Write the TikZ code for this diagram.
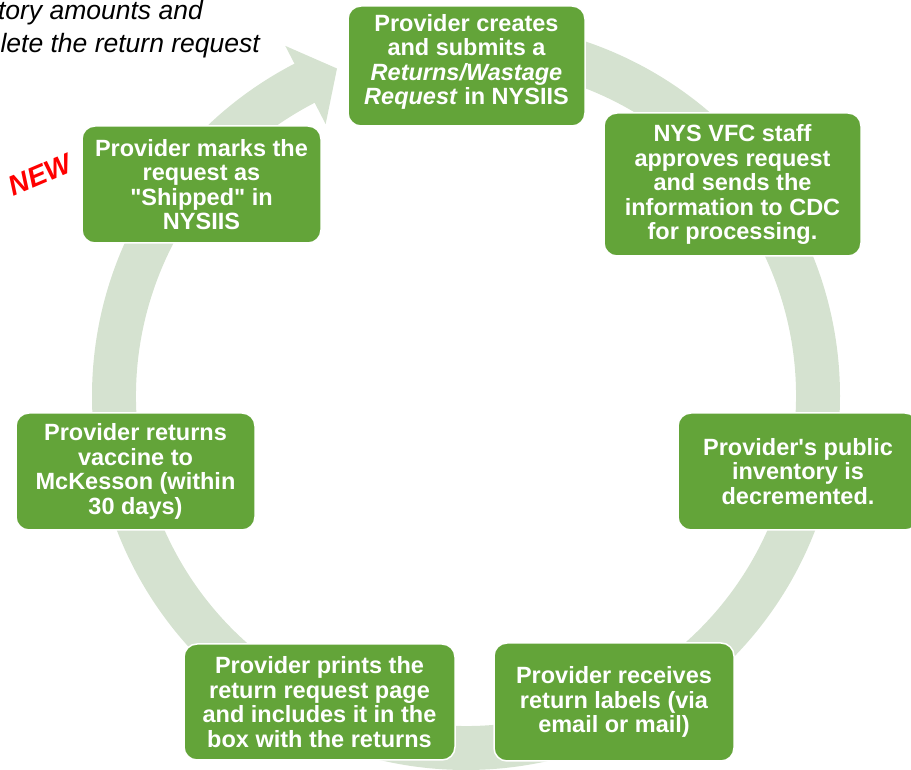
\documentclass[tikz,border=0pt]{standalone}
\usepackage{fontspec}
\setmainfont{Liberation Sans}
\definecolor{boxg}{RGB}{99,164,57}
\definecolor{ringg}{RGB}{213,226,208}
\begin{document}
\begin{tikzpicture}[x=1pt,y=1pt,
  stepbox/.style={draw=white, line width=1.5pt, fill=boxg, rounded corners=13pt,
    text=white, align=center, inner sep=0pt,
    font=\bfseries\fontsize{23.5}{24.5}\selectfont},
  notetext/.style={anchor=base east, inner sep=0pt, font=\itshape\fontsize{26.5}{32}\selectfont}]
\useasboundingbox (0,0) rectangle (911,770);
% cycle ring with arrow head
\begin{scope}[shift={(466,374)}]
  \fill[ringg] (90:374) arc[start angle=90, end angle=-242.7, radius=374]
    -- (-242.7:394) -- (-248.5:352) -- (-242.7:306) -- (-242.7:330)
    arc[start angle=-242.7, end angle=90, radius=330] -- cycle;
\end{scope}
% notes
\node[notetext] (t1) at (203,750) {tory amounts and};
\node[notetext] (t2) at (260,717) {lete the return request};
\node[text=red, inner sep=0pt, rotate=23, font=\bfseries\itshape\fontsize{28}{32}\selectfont] (new) at (40,595) {NEW};
% steps
\node[stepbox, minimum width=237pt, minimum height=120pt] (s1) at (466.5,704) {};
\node[text=white, align=center, inner sep=0pt, font=\bfseries\fontsize{23.5}{24.5}\selectfont] (s1t) at (466.5,708) {Provider creates\\and submits a\\\textit{Returns/Wastage}\\\textit{Request} in NYSIIS};
\node[stepbox, minimum width=257pt, minimum height=143pt] (s2) at (732.5,585.5) {NYS VFC staff\\approves request\\and sends the\\information to CDC\\for processing.};
\node[stepbox, minimum width=240pt, minimum height=117pt] (s3) at (798,298.5) {Provider\textquotesingle s public\\inventory is\\decremented.};
\node[stepbox, minimum width=240pt, minimum height=118pt] (s4) at (614,68) {Provider receives\\return labels (via\\email or mail)};
\node[stepbox, minimum width=271pt, minimum height=116pt] (s5) at (319.5,68) {Provider prints the\\return request page\\and includes it in the\\box with the returns};
\node[stepbox, minimum width=239pt, minimum height=117pt] (s6) at (135.5,298.5) {Provider returns\\vaccine to\\McKesson (within\\30 days)};
\node[stepbox, minimum width=239pt, minimum height=117pt] (s7) at (201.5,585.5) {Provider marks the\\request as\\\textquotedbl Shipped\textquotedbl{} in\\NYSIIS};
\end{tikzpicture}
\end{document}
